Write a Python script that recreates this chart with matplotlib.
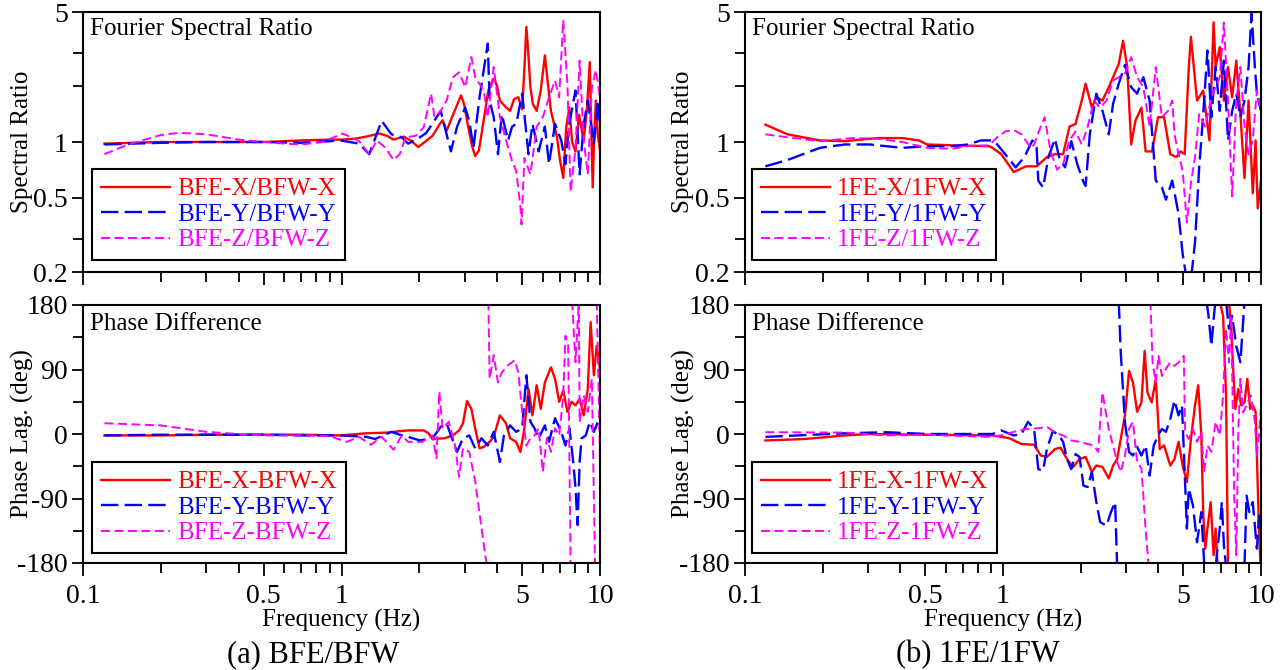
import numpy as np
import matplotlib
matplotlib.use("Agg")
import matplotlib.pyplot as plt
from matplotlib.ticker import FixedLocator, NullFormatter, FixedFormatter

plt.rcParams['font.family'] = ['Liberation Serif', 'DejaVu Serif']
plt.rcParams['lines.scale_dashes'] = False
nan = np.nan

# ---------------- data: (frequency Hz, value) ----------------
# (a) BFE/BFW  spectral ratio
TL_X = [(0.121,0.98),(0.2,1.0),(0.3,1.0),(0.5,1.0),(0.7,1.02),(0.9,1.03),(1.0,1.03),(1.12,1.04),(1.25,1.07),(1.40,1.11),
        (1.50,1.08),(1.59,1.03),(1.74,1.07),(1.85,1.02),(1.98,0.94),(2.1,1.0),(2.25,1.08),(2.4,1.25),(2.46,1.31),(2.55,1.15),
        (2.7,1.4),(2.9,1.78),(2.98,1.6),(3.06,1.3),(3.2,0.95),(3.29,0.84),(3.4,0.9),(3.48,1.1),(3.7,1.9),(3.88,2.19),
        (4.0,2.0),(4.1,1.67),(4.3,1.55),(4.49,1.47),(4.65,1.7),(4.83,1.74),(5.0,1.5),(5.1,2.5),(5.19,4.16),(5.28,3.0),
        (5.38,1.97),(5.5,1.6),(5.69,1.47),(5.9,1.9),(6.12,2.92),(6.3,2.0),(6.46,1.47),(6.6,1.3),(6.82,1.06),(7.0,0.8),
        (7.21,0.64),(7.4,1.2),(7.61,1.53),(7.8,1.0),(8.04,0.89),(8.3,1.4),(8.65,1.02),(8.9,1.5),(9.13,2.69),(9.25,1.2),
        (9.37,0.57),(9.5,1.1),(9.64,1.67),(9.8,1.1),(10,0.9)]
TL_Y = [(0.121,0.97),(0.2,0.99),(0.3,1.0),(0.5,1.0),(0.7,0.99),(0.9,1.01),(0.99,1.02),(1.17,0.98),(1.28,0.86),(1.43,1.3),
        (1.56,1.1),(1.71,1.06),(1.81,0.98),(2.01,1.06),(2.13,1.12),(2.42,1.47),(2.65,0.89),(2.80,1.21),(3.01,1.53),(3.12,1.3),
        (3.24,0.93),(3.42,1.74),(3.68,3.38),(3.74,1.67),(3.88,1.36),(4.03,0.86),(4.17,1.41),(4.41,1.02),(4.57,1.21),(4.74,1.25),
        (5.0,1.82),(5.29,0.86),(5.48,1.25),(5.79,0.89),(6.12,1.21),(6.35,0.76),(6.7,1.25),(7.08,1.02),(7.35,0.76),(7.6,1.25),
        (8.04,1.89),(8.34,0.67),(8.65,1.25),(8.97,1.67),(9.47,0.98),(9.82,1.67),(10,1.21)]
TL_Z = [(0.121,0.86),(0.15,0.97),(0.2,1.09),(0.235,1.12),(0.3,1.1),(0.4,1.03),(0.5,1.0),(0.6,0.98),(0.7,0.97),(0.85,1.0),
        (0.92,1.05),(1.01,1.11),(1.09,1.06),(1.17,1.01),(1.28,0.86),(1.37,1.02),(1.48,0.93),(1.59,0.80),(1.68,0.86),(1.77,1.06),
        (1.94,1.08),(2.08,1.2),(2.22,1.82),(2.29,1.36),(2.42,1.47),(2.55,1.67),(2.70,2.23),(2.85,2.37),(3.01,1.97),(3.18,2.86),
        (3.29,2.23),(3.55,1.89),(3.68,1.36),(3.88,2.53),(4.10,1.36),(4.33,1.02),(4.57,0.79),(4.74,0.70),(4.92,0.45),(4.97,0.36),
        (5.10,0.82),(5.38,0.67),(5.69,1.21),(6.01,1.36),(6.35,1.74),(6.7,2.14),(6.95,1.74),(7.21,4.53),(7.48,2.05),(7.70,0.54),
        (8.04,0.93),(8.34,2.74),(8.65,1.02),(8.97,0.67),(9.30,1.97),(9.64,2.44),(10,1.74)]

# (b) 1FE/1FW  spectral ratio
TR_X = [(0.12,1.24),(0.146,1.10),(0.195,1.02),(0.244,1.01),(0.327,1.05),(0.407,1.05),(0.472,1.02),(0.508,0.97),(0.634,0.96),(0.883,0.95),
        (0.91,0.93),(0.985,0.86),(1.10,0.69),(1.23,0.74),(1.35,0.74),(1.48,0.83),(1.59,0.86),(1.71,0.86),(1.81,1.21),(1.91,1.25),
        (2.02,1.67),(2.09,2.06),(2.21,1.53),(2.30,1.74),(2.43,1.67),(2.57,1.97),(2.81,2.63),(2.92,3.5),(3.03,2.53),(3.14,0.97),
        (3.26,1.30),(3.44,1.53),(3.57,0.89),(3.78,0.89),(3.99,1.36),(4.21,1.36),(4.45,0.86),(4.70,0.83),(4.88,0.89),(5.06,0.86),
        (5.25,2.53),(5.35,3.68),(5.65,1.67),(5.97,1.89),(6.31,1.02),(6.55,4.4),(6.67,2.53),(6.92,3.24),(7.18,1.67),(7.45,2.53),
        (7.73,1.74),(8.02,2.74),(8.32,1.41),(8.63,0.64),(8.95,1.67),(9.29,0.53),(9.53,1.02),(9.71,0.44),(10,0.62)]
TR_Y = [(0.12,0.74),(0.146,0.8),(0.195,0.93),(0.244,0.97),(0.304,0.97),(0.407,0.93),(0.508,0.95),(0.634,0.95),(0.734,0.97),(0.82,1.02),
        (0.91,1.02),(0.95,0.97),(1.02,0.86),(1.12,0.73),(1.21,0.83),(1.30,1.02),(1.35,0.93),(1.37,0.62),(1.43,0.57),(1.50,0.83),
        (1.59,1.04),(1.65,0.83),(1.74,0.73),(1.84,1.01),(1.94,0.76),(2.05,0.61),(2.09,0.58),(2.17,1.10),(2.30,1.82),(2.43,1.47),
        (2.57,1.10),(2.67,1.60),(2.81,2.06),(2.97,2.6),(3.14,1.97),(3.31,1.82),(3.50,2.23),(3.70,1.67),(3.91,0.62),(4.13,0.57),
        (4.28,0.49),(4.53,0.62),(4.79,0.41),(4.97,0.25),(5.16,0.18),(5.35,0.18),(5.55,0.29),(5.76,0.73),(5.97,1.41),(6.20,3.1),
        (6.42,1.36),(6.67,2.53),(6.92,1.47),(7.18,2.74),(7.45,1.02),(7.73,1.47),(8.02,1.82),(8.32,1.36),(8.63,1.67),(8.95,2.53),
        (9.19,4.9),(9.47,2.53),(9.64,1.82),(10,1.47)]
TR_Z = [(0.12,1.10),(0.146,1.06),(0.195,1.01),(0.262,1.05),(0.327,1.04),(0.407,1.0),(0.508,0.93),(0.634,0.92),(0.734,0.95),(0.883,0.96),
        (0.95,1.06),(1.02,1.14),(1.10,1.16),(1.18,1.10),(1.28,0.93),(1.32,0.97),(1.40,1.21),(1.45,1.36),(1.53,0.89),(1.62,0.71),
        (1.71,0.76),(1.81,1.02),(1.91,1.14),(2.02,0.97),(2.13,1.21),(2.25,1.67),(2.38,1.53),(2.52,1.67),(2.67,2.14),(2.81,2.23),
        (2.97,2.34),(3.14,2.86),(3.31,2.23),(3.50,1.97),(3.70,1.21),(3.91,2.53),(4.13,1.36),(4.36,1.47),(4.53,1.67),(4.62,1.10),
        (4.79,0.86),(4.97,0.70),(5.16,0.37),(5.35,0.60),(5.55,0.83),(5.76,1.41),(6.08,1.21),(6.42,1.74),(6.67,1.97),(6.92,2.23),
        (7.18,4.4),(7.45,1.67),(7.73,0.51),(8.02,1.67),(8.32,2.53),(8.63,1.21),(8.95,0.86),(9.29,1.02),(9.64,1.89),(10,1.47)]

# (a) BFE/BFW  phase lag (deg); nan marks a wrap at +-180
BL_X = [(0.121,-2),(0.2,-2),(0.3,-1),(0.5,-1),(0.7,-1),(0.99,-2),(1.25,1),(1.51,2),(1.68,4),(1.81,5),
        (2.08,5),(2.17,1),(2.25,-7),(2.50,-6),(2.70,-2),(2.85,5),(2.95,15),(3.06,46),(3.18,35),(3.29,8),
        (3.42,-20),(3.55,-18),(3.74,-11),(3.88,-4),(4.10,26),(4.33,15),(4.49,-6),(4.74,-11),(4.92,-25),(5.10,8),
        (5.29,63),(5.48,26),(5.69,68),(5.90,35),(6.12,72),(6.46,93),(6.70,77),(6.95,45),(7.21,61),(7.48,31),
        (7.76,45),(8.04,40),(8.34,49),(8.65,26),(8.97,63),(9.20,156),(9.47,82),(9.71,123),(10,91)]
BL_Y = [(0.121,-2),(0.2,-1),(0.3,-1),(0.5,-1),(0.7,-2),(0.99,-2),(1.25,-4),(1.35,-7),(1.56,3),(1.68,-1),
        (1.81,-4),(2.01,-9),(2.25,-6),(2.42,10),(2.55,15),(2.65,-2),(2.80,-25),(2.95,-6),(3.12,-2),(3.29,-20),
        (3.48,-6),(3.68,-16),(3.88,3),(4.10,-39),(4.25,-2),(4.49,12),(4.74,3),(5.0,8),(5.19,82),(5.38,17),
        (5.58,8),(5.79,-6),(6.12,12),(6.35,-11),(6.70,22),(7.08,3),(7.35,-16),(7.62,8),(7.90,-43),(8.04,-76),
        (8.19,-127),(8.34,-39),(8.49,-6),(8.81,-2),(9.13,17),(9.47,3),(9.82,17),(10,8)]
BL_Z = [(0.121,15),(0.2,12),(0.3,3),(0.4,0),(0.5,-2),(0.7,-2),(0.9,-3),(1.05,-11),(1.17,-4),(1.30,-15),
        (1.43,-4),(1.51,-13),(1.59,-22),(1.71,-2),(1.81,-11),(2.05,-11),(2.25,-2),(2.33,-34),(2.39,59),(2.46,8),
        (2.60,17),(2.75,-16),(2.85,-60),(2.95,-20),(3.12,-25),(3.29,-66),(3.48,-131),(3.61,-173),(3.68,-185),(nan,nan),
        (3.70,185),(3.74,77),(3.88,110),(4.03,72),(4.17,86),(4.41,96),(4.68,103),(4.83,86),(5.0,31),(5.19,-16),
        (5.38,-6),(5.58,-2),(5.79,8),(6.01,-53),(6.23,-6),(6.46,-25),(6.70,8),(6.95,-2),(7.21,54),(7.35,137),
        (7.53,123),(7.70,-185),(nan,nan),(7.80,185),(8.04,100),(8.28,185),(8.34,17),(8.65,54),(8.97,31),(9.30,77),
        (9.57,-185),(nan,nan),(9.71,185),(9.89,54),(10,-39)]

# (b) 1FE/1FW  phase lag (deg)
BR_X = [(0.12,-9),(0.17,-7),(0.244,-2),(0.304,0),(0.508,-1),(0.91,-2),(0.985,-4),(1.06,-6),(1.18,-14),(1.32,-15),
        (1.40,-30),(1.48,-32),(1.59,-21),(1.67,-19),(1.77,-35),(1.87,-46),(1.98,-35),(2.09,-32),(2.21,-53),(2.30,-44),
        (2.43,-46),(2.57,-62),(2.67,-44),(2.77,-35),(2.86,-7),(2.97,26),(3.08,88),(3.19,72),(3.31,31),(3.44,44),
        (3.54,116),(3.63,58),(3.77,44),(3.91,77),(4.05,-21),(4.21,-16),(4.45,-44),(4.62,-35),(4.79,-11),(4.97,-44),
        (5.16,-67),(5.35,-7),(5.55,40),(5.71,68),(5.87,-2),(5.97,-109),(6.08,-160),(6.20,-132),(6.38,-95),(6.55,-169),
        (6.67,-132),(6.79,-185),(nan,nan),(6.92,185),(7.13,165),(7.32,54),(7.45,-185),(nan,nan),(7.51,185),(7.67,147),
        (7.78,100),(7.95,35),(8.17,63),(8.37,40),(8.63,44),(8.85,77),(9.08,35),(9.29,40),(9.53,31),(9.82,-132),
        (9.96,-185),(nan,nan),(10,185)]
BR_Y = [(0.12,-4),(0.244,1),(0.352,2.5),(0.508,0),(0.91,0),(0.985,5),(1.10,-2),(1.18,0),(1.25,17),(1.32,7),
        (1.37,-49),(1.43,-51),(1.48,-21),(1.56,4),(1.65,-2),(1.71,-11),(1.77,-35),(1.84,-49),(1.91,-28),(1.98,-32),
        (2.05,-72),(2.13,-74),(2.21,-53),(2.30,-95),(2.38,-123),(2.52,-128),(2.62,-109),(2.72,-95),(2.77,-185),(nan,nan),
        (2.81,185),(2.86,114),(2.97,16),(3.08,-25),(3.19,-30),(3.31,-18),(3.44,-30),(3.57,-16),(3.70,-58),(3.84,-16),
        (3.99,-2),(4.13,7),(4.28,3),(4.45,21),(4.62,47),(4.79,26),(4.94,40),(5.06,-53),(5.16,-132),(5.25,-76),
        (5.45,-100),(5.65,-151),(5.87,-109),(6.02,-179),(6.15,-185),(nan,nan),(6.15,185),(6.26,165),(6.42,123),(6.61,175),
        (6.68,185),(nan,nan),(6.68,-185),(6.74,-169),(6.92,-132),(7.05,-95),(7.18,-155),(7.32,-185),(nan,nan),(7.32,185),
        (7.51,147),(7.73,165),(8.02,123),(8.32,100),(8.63,185),(nan,nan),(8.63,-185),(8.79,-86),(9.01,-109),(9.29,-95),
        (9.64,-160),(9.82,-114),(10,-132)]
BR_Z = [(0.12,2.5),(0.244,2),(0.352,-2),(0.508,-1),(0.883,-4),(0.985,-2),(1.10,3),(1.23,7),(1.37,8),(1.48,10),
        (1.59,2),(1.71,-2),(1.84,-9),(1.98,-11),(2.13,-14),(2.25,-16),(2.34,-25),(2.38,17),(2.43,58),(2.49,35),
        (2.57,7),(2.67,-16),(2.77,-39),(2.86,-53),(2.97,-30),(3.08,7),(3.19,17),(3.31,-39),(3.44,-48),(3.57,-132),
        (3.67,-185),(nan,nan),(3.73,185),(3.80,100),(3.91,72),(4.01,109),(4.13,81),(4.28,91),(4.45,100),(4.62,95),
        (4.79,100),(5.02,109),(5.08,3),(5.25,-7),(5.45,7),(5.65,-11),(5.87,3),(6.02,-53),(6.20,-16),(6.42,-25),
        (6.67,17),(6.92,-2),(7.13,54),(7.32,147),(7.51,100),(7.67,165),(7.87,-86),(8.02,-169),(8.17,7),(8.32,77),
        (8.52,30),(8.79,40),(9.12,54),(9.47,17),(9.64,-30),(9.82,-2),(10,40)]

LEG_TL = ["BFE-X/BFW-X", "BFE-Y/BFW-Y", "BFE-Z/BFW-Z"]
LEG_TR = ["1FE-X/1FW-X", "1FE-Y/1FW-Y", "1FE-Z/1FW-Z"]
LEG_BL = ["BFE-X-BFW-X", "BFE-Y-BFW-Y", "BFE-Z-BFW-Z"]
LEG_BR = ["1FE-X-1FW-X", "1FE-Y-1FW-Y", "1FE-Z-1FW-Z"]
CAPTIONS = ["(a) BFE/BFW", "(b) 1FE/1FW"]

# ---------------- styling ----------------
FS = 18
TICKFS = 20
STYLES = [dict(color='#ff0000', lw=1.7, ls='-'),
          dict(color='#0000ff', lw=1.7, dashes=(12.5, 4.5)),
          dict(color='#ff00ff', lw=1.4, dashes=(6.5, 3.2))]

W, H = 1284, 670
fig = plt.figure(figsize=(W/100, H/100), dpi=100)

def ax_px(x0, y0, x1, y1):
    return fig.add_axes([x0/W, 1-y1/H, (x1-x0)/W, (y1-y0)/H])

ax_tl = ax_px(83, 12, 600, 272)
ax_tr = ax_px(745, 12, 1261, 272)
ax_bl = ax_px(83, 305, 600, 563)
ax_br = ax_px(745, 305, 1261, 563)

xmaj = [0.1, 0.5, 1, 5, 10]
xmin = [0.2, 0.3, 0.4, 0.6, 0.7, 0.8, 0.9, 2, 3, 4, 6, 7, 8, 9]

def common(ax, bottom):
    ax.set_xscale('log')
    ax.set_xlim(0.1, 10)
    ax.xaxis.set_major_locator(FixedLocator(xmaj))
    ax.xaxis.set_minor_locator(FixedLocator(xmin))
    ax.xaxis.set_minor_formatter(NullFormatter())
    if bottom:
        ax.xaxis.set_major_formatter(FixedFormatter(["0.1", "0.5", "1", "5", "10"]))
    else:
        ax.xaxis.set_major_formatter(NullFormatter())
    ax.tick_params(which='major', direction='out', length=8, width=1.3, labelsize=TICKFS, pad=3)
    ax.tick_params(which='minor', direction='out', length=7, width=1.3)
    ax.tick_params(axis='x', which='major', length=9, pad=6)
    for s in ax.spines.values():
        s.set_linewidth(1.5)

def draw(ax, series, labels):
    hs = []
    for data, st, lab in zip(series, STYLES, labels):
        f = [p[0] for p in data]
        v = [p[1] for p in data]
        h, = ax.plot(f, v, label=lab, **st)
        hs.append(h)
    leg = ax.legend(handles=hs, loc='upper left', bbox_to_anchor=LEGPOS[id(ax)],
                    frameon=True, fancybox=False, edgecolor='black', framealpha=1,
                    fontsize=FS, handlelength=2.75, handletextpad=0.3, borderpad=0.35,
                    labelspacing=0.12, borderaxespad=0)
    leg.get_frame().set_linewidth(1.5)
    for t, st in zip(leg.get_texts(), STYLES):
        t.set_color(st['color'])

LEGPOS = {id(ax_tl): ((92-83)/517, (272-169)/260),
          id(ax_tr): ((752-745)/516, (272-169)/260),
          id(ax_bl): ((92-83)/517, (563-462)/258),
          id(ax_br): ((752-745)/516, (563-462)/258)}

for ax in (ax_tl, ax_tr):
    common(ax, False)
    ax.set_yscale('log')
    ax.set_ylim(0.2, 5)
    ax.yaxis.set_major_locator(FixedLocator([0.2, 0.5, 1, 5]))
    ax.yaxis.set_major_formatter(FixedFormatter(["0.2", "0.5", "1", "5"]))
    ax.yaxis.set_minor_locator(FixedLocator([0.3, 2, 3]))
    ax.yaxis.set_minor_formatter(NullFormatter())
    ax.text(0.0135, 0.912, "Fourier Spectral Ratio", transform=ax.transAxes,
            fontsize=FS, va='baseline', ha='left')

for ax in (ax_bl, ax_br):
    common(ax, True)
    ax.set_ylim(-180, 180)
    ax.yaxis.set_major_locator(FixedLocator([-180, -90, 0, 90, 180]))
    ax.yaxis.set_major_formatter(FixedFormatter(["-180", "-90", "0", "90", "180"]))
    ax.yaxis.set_minor_locator(FixedLocator([-135, -45, 45, 135]))
    ax.text(0.0135, 0.903, "Phase Difference", transform=ax.transAxes,
            fontsize=FS, va='baseline', ha='left')

draw(ax_tl, [TL_X, TL_Y, TL_Z], LEG_TL)
draw(ax_tr, [TR_X, TR_Y, TR_Z], LEG_TR)
draw(ax_bl, [BL_X, BL_Y, BL_Z], LEG_BL)
draw(ax_br, [BR_X, BR_Y, BR_Z], LEG_BR)

# axis labels / captions
for xc in (22, 683):
    fig.text(xc/W, 1-142/H, "Spectral Ratio", rotation=90, ha='center', va='center', fontsize=FS)
    fig.text(xc/W, 1-434/H, "Phase Lag. (deg)", rotation=90, ha='center', va='center', fontsize=FS)
fig.text(341/W, 1-620/H, "Frequency (Hz)", ha='center', va='center', fontsize=FS)
fig.text(1003/W, 1-620/H, "Frequency (Hz)", ha='center', va='center', fontsize=FS)
fig.text(313/W, 1-655/H, CAPTIONS[0], ha='center', va='center', fontsize=22)
fig.text(978/W, 1-655/H, CAPTIONS[1], ha='center', va='center', fontsize=22)

fig.savefig("out.png", dpi=100)
